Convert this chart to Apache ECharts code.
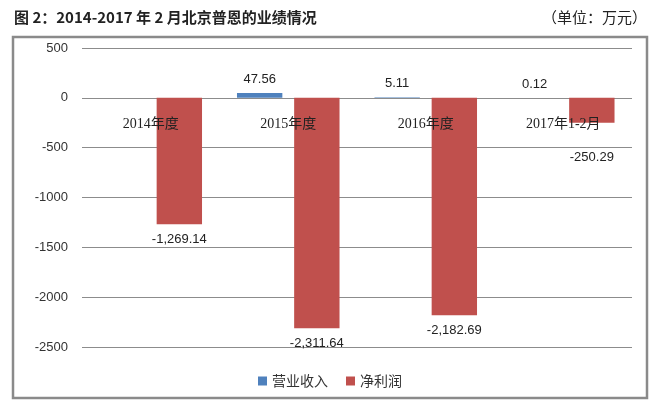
<!DOCTYPE html>
<html><head><meta charset="utf-8">
<script src="https://cdn.jsdelivr.net/npm/echarts@6/dist/echarts.min.js"></script>
<style>html,body{margin:0;padding:0;background:#fff}#c{width:660px;height:413px}</style>
</head><body><div id="c"></div>
<script>
const categories = ['2014年度', '2015年度', '2016年度', '2017年1-2月'];
const revenue = [null, 47.56, 5.11, 0.12];
const netProfit = [-1269.14, -2311.64, -2182.69, -250.29];
const yTicks = [500, 0, -500, -1000, -1500, -2000, -2500];

const fmt = v => Number(v).toLocaleString('en-US', {minimumFractionDigits: 2, maximumFractionDigits: 2});
const font = '"Liberation Sans", "Noto Sans CJK SC", sans-serif';

const profitData = netProfit.map((v, i) => i === 3 ? {value: v, label: {distance: 28}} : v);

const chart = echarts.init(document.getElementById('c'), null, {renderer: 'canvas'});
chart.setOption({
  backgroundColor: '#fff',
  animation: false,
  textStyle: {fontFamily: font},
  title: [
    {text: '图 2：2014-2017 年 2 月北京普恩的业绩情况', left: 9, top: 5,
     textStyle: {fontSize: 15, fontWeight: 'bold', color: '#222', fontFamily: '"Noto Sans CJK SC", sans-serif'}},
    {text: '（单位：万元）', right: 8, top: 5,
     textStyle: {fontSize: 15, fontWeight: 'normal', color: '#222', fontFamily: '"Noto Sans CJK SC", sans-serif'}}
  ],
  graphic: [{type: 'rect', shape: {x: 13, y: 37, width: 634, height: 361},
    style: {fill: 'none', stroke: '#8a8a8a', lineWidth: 2.5}, silent: true}],
  legend: {bottom: 20, left: 'center', itemWidth: 9, itemHeight: 9, itemGap: 18,
    icon: 'rect', textStyle: {fontSize: 14, color: '#333', fontFamily: '"Noto Sans CJK SC", sans-serif'},
    data: ['营业收入', '净利润']},
  grid: {left: 82, right: 28, top: 48, bottom: 66},
  xAxis: {type: 'category', data: categories, position: 'bottom', offset: -249, z: 10,
    axisLine: {show: false, onZero: false}, axisTick: {show: false},
    axisLabel: {margin: 19, fontSize: 14, color: '#222', fontFamily: '"Liberation Serif", "Noto Sans CJK SC", serif'}},
  yAxis: {type: 'value', min: -2500, max: 500, interval: 500,
    axisLine: {show: false}, axisTick: {show: false},
    axisLabel: {margin: 14, fontSize: 13, color: '#333', formatter: v => String(v)},
    splitLine: {lineStyle: {color: '#8c8c8c', width: 1}}},
  series: [
    {name: '营业收入', type: 'bar', data: revenue, barWidth: '33%', barGap: '26%',
     itemStyle: {color: '#4f81bd'},
     label: {show: true, position: 'top', distance: 7, fontSize: 13, color: '#222', formatter: p => fmt(p.value)}},
    {name: '净利润', type: 'bar', data: profitData, barWidth: '33%',
     itemStyle: {color: '#c0504d'},
     label: {show: true, position: 'bottom', distance: 9, fontSize: 13, color: '#222', formatter: p => fmt(p.value)}}
  ]
});
</script></body></html>
